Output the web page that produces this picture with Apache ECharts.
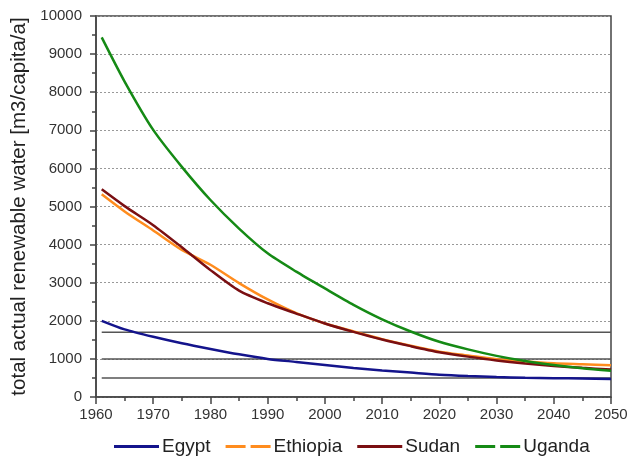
<!DOCTYPE html>
<html>
<head>
<meta charset="utf-8">
<script src="https://cdn.jsdelivr.net/npm/echarts@6/dist/echarts.min.js"></script>
<style>html,body{margin:0;padding:0;background:#fff;}#c{width:631px;height:458px;}</style>
</head>
<body>
<div id="c"></div>
<script>
const years = [1961,1965,1970,1975,1980,1985,1990,1995,2000,2005,2010,2015,2020,2025,2030,2035,2040,2045,2050];
const egypt    = [2000,1775,1580,1410,1260,1120,1000,920,840,760,695,640,585,550,525,505,495,485,475];
const ethiopia = [5320,4870,4370,3860,3470,2990,2560,2200,1930,1720,1520,1345,1190,1090,990,930,885,860,835];
const sudan    = [5450,5010,4510,3930,3330,2790,2460,2190,1930,1710,1510,1335,1175,1060,960,880,815,765,720];
const uganda   = [9440,8280,7010,6040,5170,4420,3770,3290,2850,2420,2040,1720,1450,1250,1080,945,840,755,690];
const thresholds = [1700, 1000, 500];
const thresholdSpan = [1961, 2050];
const xTicks = [1960, 2050, 10];
const yTicks = [0, 10000, 1000];

const names = ['Egypt','Ethiopia','Sudan','Uganda'];
const colors = ['#14148c','#ff8c1e','#7a0f12','#158a15'];
const values = [egypt, ethiopia, sudan, uganda];

const chart = echarts.init(document.getElementById('c'));
const font = 'Liberation Sans, Arial, sans-serif';
const series = [];
thresholds.forEach(t => {
  series.push({
    type:'line', name:'t'+t, data: thresholdSpan.map(y => [y, t]),
    symbol:'none', silent:true, z:1,
    lineStyle:{color:'#555', width:1.5}
  });
});
names.forEach((n,i) => {
  series.push({
    type:'line', name:n, data: years.map((y,j) => [y, values[i][j]]),
    symbol:'none', smooth:0.25, z:3+i,
    lineStyle:{color:colors[i], width:2.5}, itemStyle:{color:colors[i]}
  });
});
const solid = 'path://M0,0H45V3H0Z';
const dashed = 'path://M0,0H20V3H0Z M25,0H45V3H25Z';
chart.setOption({
  animation:false,
  textStyle:{fontFamily:font},
  grid:{left:96, right:20, top:16, bottom:61, show:true, borderColor:'#444', borderWidth:1.5},
  legend:{
    left:109, top:432, itemWidth:45, itemHeight:3, itemGap:15,
    textStyle:{fontSize:19, color:'#222', fontFamily:font, padding:[0,0,0,-2]},
    data:[{name:'Egypt',icon:solid},{name:'Ethiopia',icon:dashed},{name:'Sudan',icon:solid},{name:'Uganda',icon:dashed}]
  },
  xAxis:{
    type:'value', min:xTicks[0], max:xTicks[1], interval:xTicks[2],
    axisLine:{lineStyle:{color:'#444', width:1.5}},
    axisTick:{show:true, length:7, lineStyle:{color:'#444', width:1.5}},
    minorTick:{show:true, splitNumber:2, length:4, lineStyle:{color:'#444', width:1.5}},
    splitLine:{show:false},
    axisLabel:{fontSize:15, color:'#333', margin:10, fontFamily:font, formatter: v => String(v)}
  },
  yAxis:{
    type:'value', min:yTicks[0], max:yTicks[1], interval:yTicks[2],
    name:'total actual renewable water [m3/capita/a]', nameLocation:'middle', nameGap:66,
    nameTextStyle:{fontSize:20.5, color:'#222', fontFamily:font},
    axisLine:{show:true, lineStyle:{color:'#444', width:1.5}},
    axisTick:{show:true, length:6, lineStyle:{color:'#444', width:1.5}},
    minorTick:{show:true, splitNumber:2, length:4, lineStyle:{color:'#444', width:1.5}},
    splitLine:{show:true, lineStyle:{color:'#999', type:[2,2], width:1}},
    axisLabel:{fontSize:15, color:'#333', margin:14, fontFamily:font, formatter: v => String(v)}
  },
  series: series
});
</script>
</body>
</html>
